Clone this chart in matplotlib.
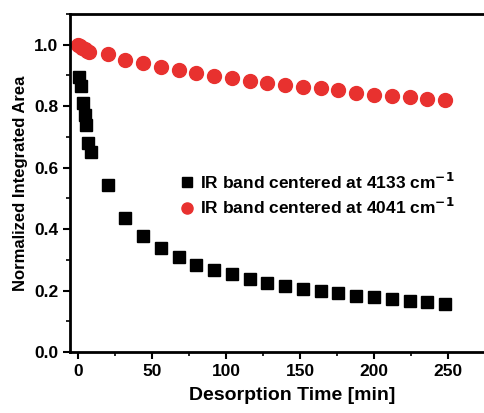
import numpy as np
import matplotlib
matplotlib.use("Agg")
import matplotlib.pyplot as plt
from matplotlib.ticker import MultipleLocator

plt.rcParams['font.family'] = ['Liberation Sans', 'DejaVu Sans']
plt.rcParams['font.weight'] = 'bold'

# IR band at 4133 cm-1 (black squares)
t_4133 = [1, 2, 3.5, 4.5, 5.5, 7, 8.5, 20, 32, 44, 56, 68, 80, 92, 104, 116,
          128, 140, 152, 164, 176, 188, 200, 212, 224, 236, 248]
a_4133 = [0.894, 0.865, 0.81, 0.77, 0.74, 0.68, 0.65, 0.545, 0.437, 0.378,
          0.339, 0.31, 0.284, 0.268, 0.254, 0.238, 0.226, 0.215, 0.205,
          0.199, 0.192, 0.183, 0.18, 0.173, 0.167, 0.164, 0.157]

# IR band at 4041 cm-1 (red circles)
t_4041 = [0, 1.5, 3, 4.5, 6, 7.5, 20, 32, 44, 56, 68, 80, 92, 104, 116, 128,
          140, 152, 164, 176, 188, 200, 212, 224, 236, 248]
a_4041 = [1.0, 0.995, 0.99, 0.985, 0.98, 0.976, 0.969, 0.95, 0.94, 0.927,
          0.917, 0.907, 0.897, 0.891, 0.881, 0.874, 0.868, 0.861, 0.858,
          0.852, 0.842, 0.838, 0.832, 0.829, 0.825, 0.819]

fig = plt.figure(figsize=(4.84, 4.13), dpi=100)
# axes run past the right edge so the right spine is cut off, as in the scan
ax = fig.add_axes([70 / 484, (413 - 352) / 413, 444 / 484, 338 / 413])

ax.plot(t_4133, a_4133, 's', color='black', markersize=9,
        label='IR band centered at 4133 cm$^{\\mathbf{-1}}$')
ax.plot(t_4041, a_4041, 'o', color='#e8312f', markersize=10,
        label='IR band centered at 4041 cm$^{\\mathbf{-1}}$')

ax.set_xlim(-5.4, 294.6)
ax.set_ylim(0, 1.1)
ax.xaxis.set_major_locator(MultipleLocator(50))
ax.xaxis.set_minor_locator(MultipleLocator(25))
ax.yaxis.set_major_locator(MultipleLocator(0.2))
ax.yaxis.set_minor_locator(MultipleLocator(0.1))
ax.tick_params(which='major', direction='out', length=5, width=1.5,
               labelsize=12.5)
ax.tick_params(which='minor', direction='out', length=3, width=1.2)
for s in ax.spines.values():
    s.set_linewidth(2)

ax.set_xlabel('Desorption Time [min]', fontsize=14, fontweight='bold',
              labelpad=6)
ax.set_ylabel('Normalized Integrated Area', fontsize=12, fontweight='bold')

ax.legend(loc='upper left', bbox_to_anchor=(0.22, 0.56), frameon=False,
          fontsize=12.5, handletextpad=0.15, labelspacing=0.3, borderpad=0,
          markerscale=0.8, handlelength=1.2)

fig.savefig('out.png', dpi=100)
